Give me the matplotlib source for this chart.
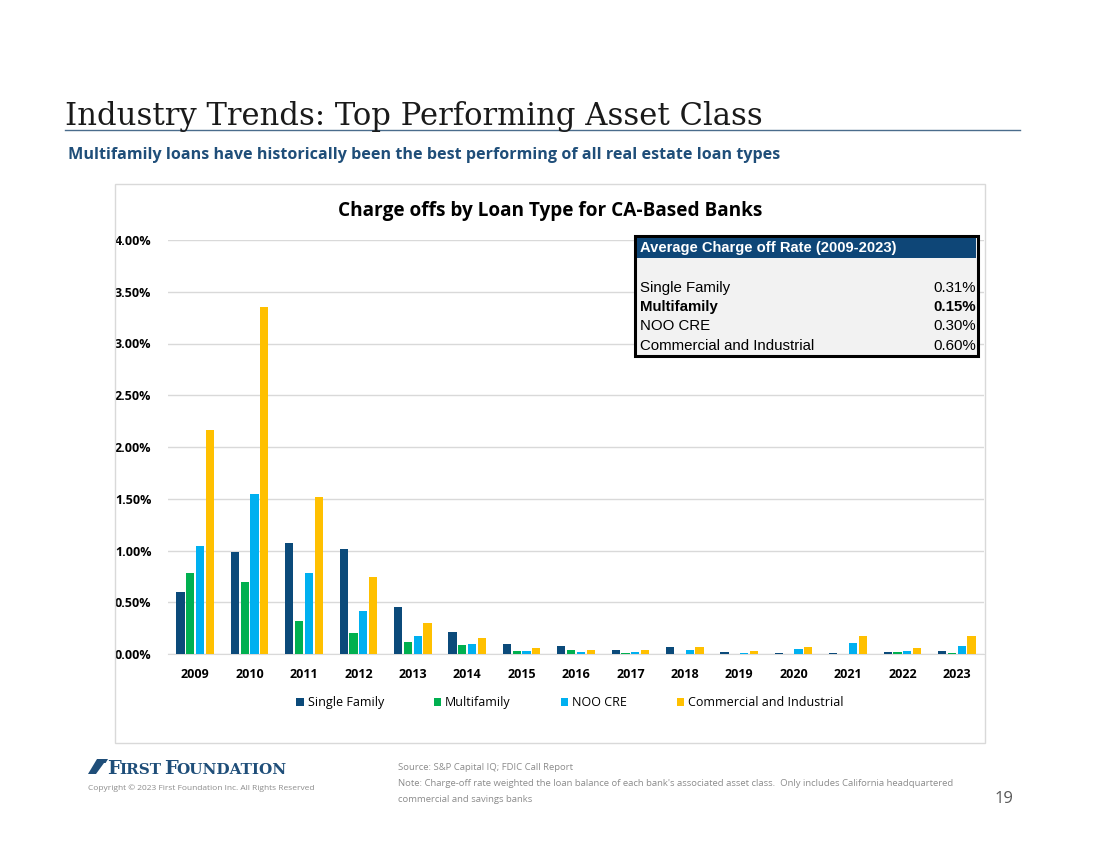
import matplotlib
matplotlib.use("Agg")
import matplotlib.pyplot as plt
from matplotlib.patches import Rectangle, Polygon
import numpy as np

years = ["2009", "2010", "2011", "2012", "2013", "2014", "2015", "2016",
         "2017", "2018", "2019", "2020", "2021", "2022", "2023"]
single_family = [0.60, 0.99, 1.07, 1.01, 0.45, 0.21, 0.10, 0.08, 0.035, 0.065, 0.02, 0.01, 0.01, 0.015, 0.03]
multifamily = [0.78, 0.70, 0.32, 0.20, 0.12, 0.09, 0.03, 0.04, 0.01, 0.0, 0.0, 0.0, 0.0, 0.015, 0.01]
noo_cre = [1.04, 1.55, 0.78, 0.42, 0.17, 0.10, 0.03, 0.02, 0.02, 0.035, 0.01, 0.045, 0.11, 0.03, 0.08]
c_and_i = [2.16, 3.35, 1.52, 0.74, 0.30, 0.15, 0.06, 0.04, 0.04, 0.07, 0.03, 0.065, 0.17, 0.06, 0.17]
series_names = ["Single Family", "Multifamily", "NOO CRE", "Commercial and Industrial"]
y_ticks = [0.0, 0.5, 1.0, 1.5, 2.0, 2.5, 3.0, 3.5, 4.0]

table_rows = ["Single Family", "Multifamily", "NOO CRE", "Commercial and Industrial"]
table_vals = ["0.31%", "0.15%", "0.30%", "0.60%"]

colors = ["#0B4A7A", "#00B050", "#00B0F0", "#FFC000"]
W, H = 1100, 849

fig = plt.figure(figsize=(11, 8.49), dpi=100)
fig.patch.set_facecolor("white")

def fx(x): return x / W
def fy(y): return 1 - y / H

# Title
fig.text(fx(65), fy(125), "Industry Trends: Top Performing Asset Class",
         family="DejaVu Serif", fontsize=22.1, color="#1a1a1a", va="baseline", ha="left")
fig.add_artist(plt.Line2D([fx(65), fx(1020)], [fy(130), fy(130)], color="#4A6C8C", lw=1.0))
fig.text(fx(68), fy(155), "Multifamily loans have historically been the best performing of all real estate loan types",
         family="Open Sans", fontweight="bold", fontsize=11.6, color="#1F4E79", va="center", ha="left")

# Chart box
fig.add_artist(Rectangle((fx(115), fy(743)), fx(985 - 115), (743 - 184) / H,
                         transform=fig.transFigure, fill=False, ec="#D9D9D9", lw=1))
fig.text(fx(550), fy(211), "Charge offs by Loan Type for CA-Based Banks",
         family="Open Sans", fontweight="bold", fontsize=13.7, color="black", ha="center", va="center")

ax = fig.add_axes([fx(168), fy(654), fx(984 - 168), (654 - 240) / H])
x = np.arange(len(years))
bw = 0.15
offsets = [-0.27, -0.09, 0.09, 0.27]
for vals, off, c, name in zip([single_family, multifamily, noo_cre, c_and_i], offsets, colors, series_names):
    ax.bar(x + off, vals, width=bw, color=c, label=name, zorder=3)
ax.set_xlim(-0.5, len(years) - 0.5)
ax.set_ylim(0, 4.0)
ax.set_yticks(y_ticks)
ax.set_yticklabels([f"{v:.2f}%" for v in y_ticks])
ax.set_xticks(x)
ax.set_xticklabels(years)
for lab in ax.get_xticklabels() + ax.get_yticklabels():
    lab.set_fontweight("bold")
    lab.set_family("Open Sans")
    lab.set_fontsize(9)
ax.tick_params(axis="both", length=0)
ax.tick_params(axis="x", pad=10)
ax.tick_params(axis="y", pad=12)
ax.grid(axis="y", color="#D9D9D9", lw=1, zorder=0)
for s in ["top", "right", "left"]:
    ax.spines[s].set_visible(False)
ax.spines["bottom"].set_color("#D9D9D9")

leg = ax.legend(loc="upper center", bbox_to_anchor=((570 - 168) / 816, -0.075), ncol=4,
                frameon=False, handlelength=0.6, handleheight=0.6, handletextpad=0.3,
                columnspacing=4.0, prop={"family": "Open Sans", "size": 9})

# Inset table
tx0, tx1, ty0, ty1 = 635, 978, 236, 356
fig.add_artist(Rectangle((fx(tx0), fy(ty1)), fx(tx1 - tx0), (ty1 - ty0) / H,
                         transform=fig.transFigure, fc="#F2F2F2", ec="black", lw=2.2, zorder=5))
fig.add_artist(Rectangle((fx(tx0 + 2), fy(258)), fx(tx1 - tx0 - 4), (258 - ty0 - 2) / H,
                         transform=fig.transFigure, fc="#0E4677", ec="none", zorder=6))
fig.text(fx(640), fy(248), "Average Charge off Rate (2009-2023)", family="Liberation Sans",
         fontsize=10.6, fontweight="bold", color="white", va="center", ha="left", zorder=7)
row_y = [288, 307, 326, 346]
for i, (r, v, yy) in enumerate(zip(table_rows, table_vals, row_y)):
    fw = "bold" if i == 1 else "normal"
    fig.text(fx(640), fy(yy), r, family="Liberation Sans", fontsize=10.8, fontweight=fw,
             color="black", va="center", ha="left", zorder=7)
    fig.text(fx(976), fy(yy), v, family="Liberation Sans", fontsize=10.8, fontweight=fw,
             color="black", va="center", ha="right", zorder=7)

# Footer logo
navy = "#1F4E79"
fig.add_artist(Polygon([(fx(88), fy(774)), (fx(97), fy(759)), (fx(108), fy(759)), (fx(99), fy(774))],
                       closed=True, transform=fig.transFigure, fc=navy, ec="none"))
fig.add_artist(Polygon([(fx(96), fy(774)), (fx(104), fy(763)), (fx(108), fy(763)), (fx(100), fy(774))],
                       closed=True, transform=fig.transFigure, fc="white", ec="none"))
fig.text(fx(107), fy(774), "F", family="DejaVu Serif", fontweight="bold", fontsize=14, color=navy, va="baseline")
fig.text(fx(119), fy(774), "IRST", family="DejaVu Serif", fontweight="bold", fontsize=11, color=navy, va="baseline")
fig.text(fx(164), fy(774), "F", family="DejaVu Serif", fontweight="bold", fontsize=14, color=navy, va="baseline")
fig.text(fx(176), fy(774), "OUNDATION", family="DejaVu Serif", fontweight="bold", fontsize=11, color=navy, va="baseline")
fig.text(fx(88), fy(788), "Copyright \u00a9 2023 First Foundation Inc. All Rights Reserved",
         family="Open Sans", fontsize=6, color="#8C8C8C", va="center", ha="left")

fig.text(fx(398), fy(768), "Source: S&P Capital IQ; FDIC Call Report",
         family="Open Sans", fontsize=6.8, color="#8C8C8C", va="center", ha="left")
fig.text(fx(398), fy(784), "Note: Charge-off rate weighted the loan balance of each bank's associated asset class.  Only includes California headquartered",
         family="Open Sans", fontsize=6.8, color="#8C8C8C", va="center", ha="left")
fig.text(fx(398), fy(800), "commercial and savings banks",
         family="Open Sans", fontsize=6.8, color="#8C8C8C", va="center", ha="left")
fig.text(fx(1013), fy(799), "19", family="Open Sans", fontsize=12, color="#595959", va="center", ha="right")

fig.savefig("out.png", dpi=100)
